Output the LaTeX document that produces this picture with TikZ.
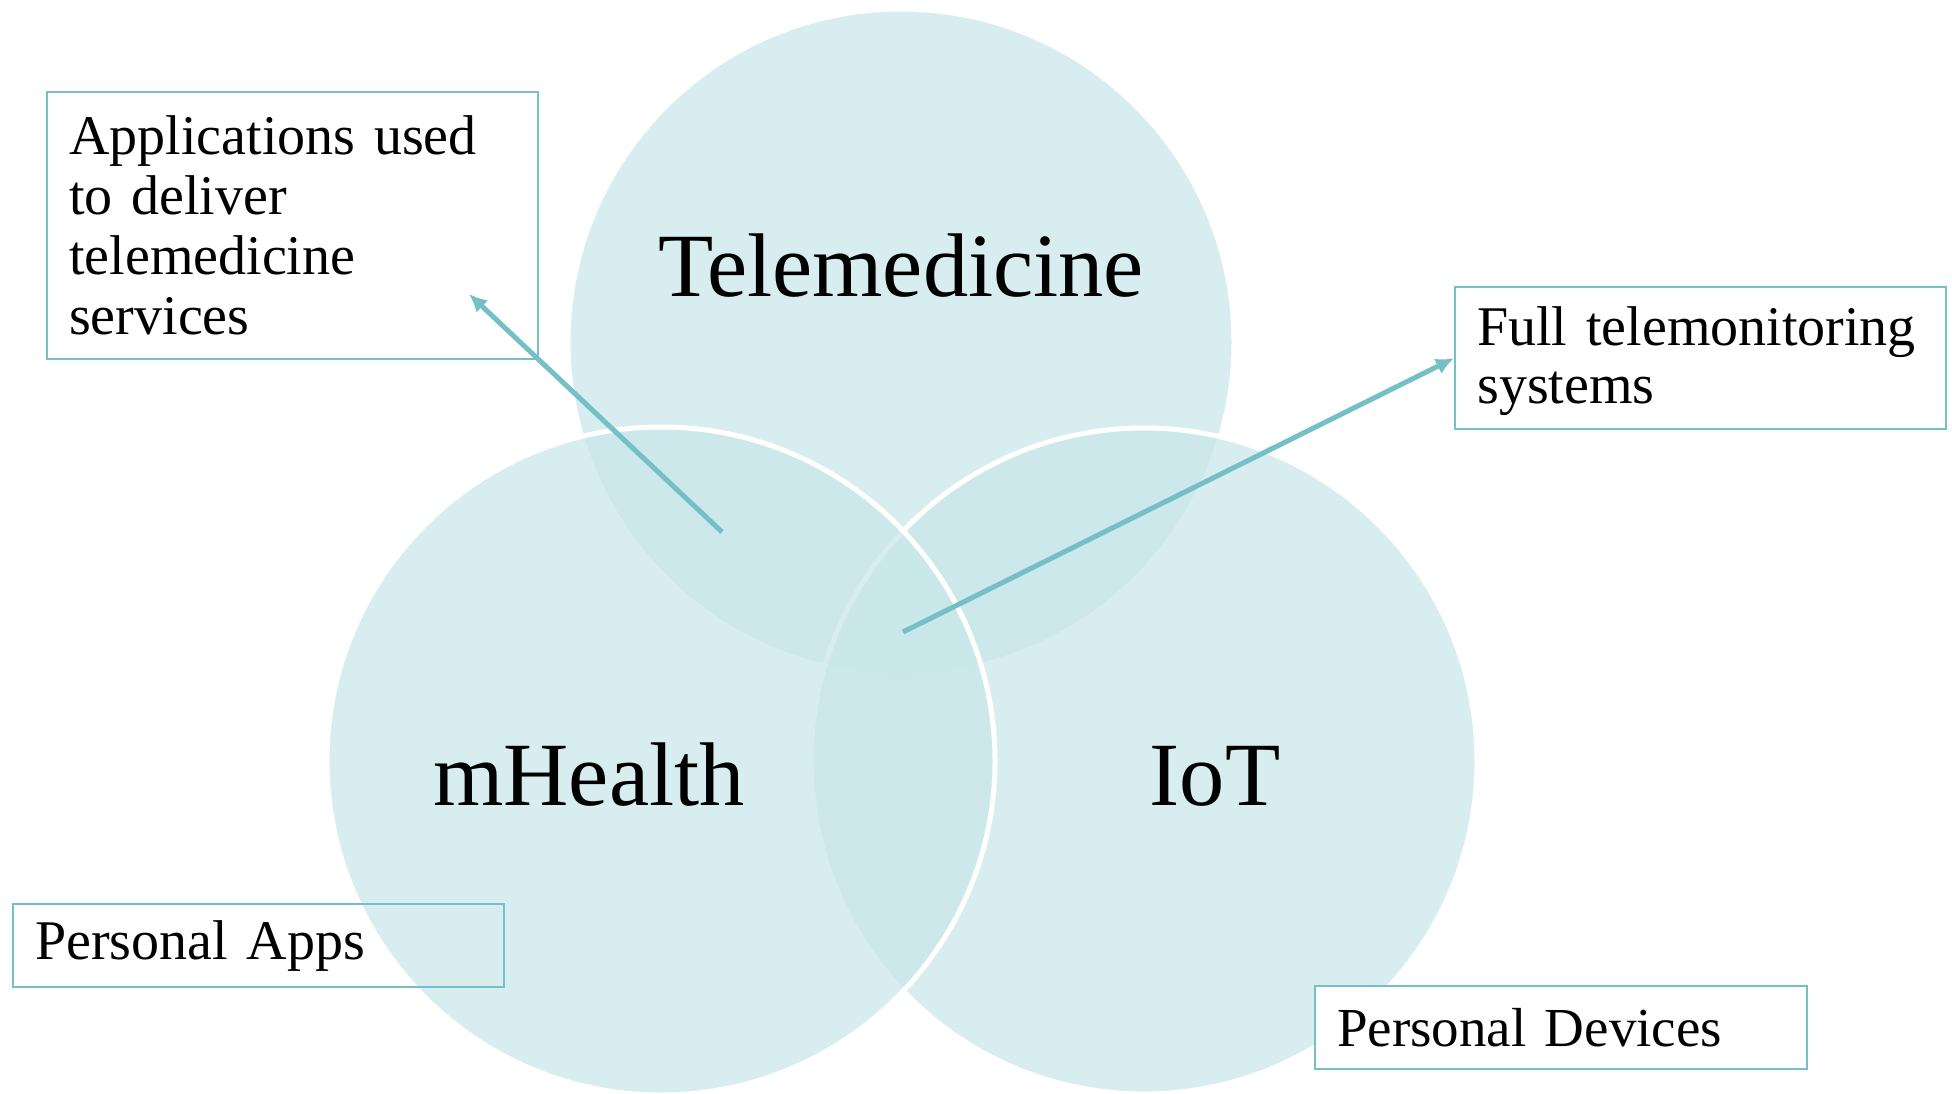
\documentclass[tikz,border=0pt]{standalone}
\usepackage{fontspec}
\setmainfont{Liberation Serif}
\usepackage{tikz}
\usetikzlibrary{arrows.meta}
\definecolor{vennfill}{RGB}{200,230,233}
\definecolor{tealline}{RGB}{116,192,198}

\begin{document}
\begin{tikzpicture}[x=0.5pt, y=-0.5pt,
    venn/.style={fill=vennfill, fill opacity=0.7, draw=white, line width=2.5pt},
    title/.style={font=\fontsize{45.2}{52}\selectfont, inner sep=0pt},
    notebox/.style={draw=tealline, line width=1.2pt, align=left, inner xsep=11pt, inner ysep=0pt,
                    font=\fontsize{28}{30}\selectfont, anchor=north west},
    pointer/.style={draw=tealline, line width=2.5pt, -{Latex[length=9pt,width=8.5pt]}}]
    \useasboundingbox (0,0) rectangle (1952,1093);

    % Venn circles
    \filldraw[venn] (901,342) circle [radius=166.5pt];
    \filldraw[venn] (1144,761) circle [radius=166.5pt];
    \filldraw[venn] (661,761) circle [radius=167pt];

    % Circle titles
    \node[title, anchor=base] (tele) at (901,296) {Telemedicine};
    \node[title, anchor=base] (mhealth) at (589,805) {mHealth};
    \node[title, anchor=base] (iot) at (1215,805) {IoT};

    % Notes
    \node[notebox, text width=223.5pt, minimum height=133.5pt] (apps) at (46,91)
        {Applications used\\ to deliver\\ telemedicine\\ services};
    \node[notebox, text width=223.5pt, minimum height=71pt, font=\fontsize{28}{29}\selectfont] (full) at (1454,286)
        {\rule{0pt}{22pt}Full telemonitoring\\ systems};
    \node[notebox, text width=223.5pt, minimum height=41.5pt] (papps) at (12,903) {Personal Apps};
    \node[notebox, text width=224pt, minimum height=41.5pt, fill=white, font=\fontsize{27.5}{30}\selectfont] (pdev) at (1314,985) {Personal Devices};

    % Pointers
    \coordinate (appsfrom) at (722,532);
    \coordinate (appsto) at (469,294);
    \coordinate (fullfrom) at (903,632);
    \draw[pointer] (appsfrom) -- (appsto);
    \draw[pointer] (fullfrom) -- (full.west);
\end{tikzpicture}
\end{document}
